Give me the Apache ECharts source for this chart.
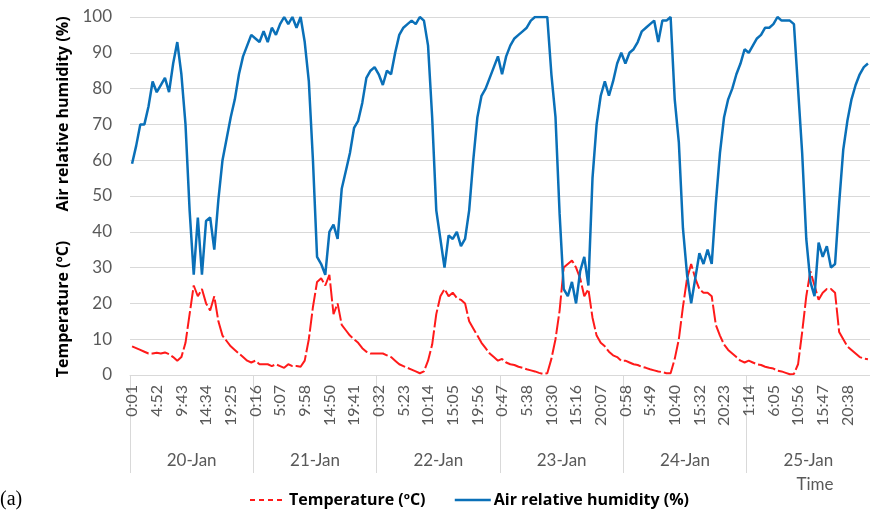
<!DOCTYPE html>
<html>
<head>
<meta charset="utf-8">
<script src="https://cdn.jsdelivr.net/npm/echarts@6/dist/echarts.min.js"></script>
<style>
  html, body { margin: 0; padding: 0; background: #fff; }
  #main { width: 870px; height: 516px; }
</style>
</head>
<body>
<div id="main"></div>
<script>
// dias y etiquetas de hora (cada 6 puntos)
var days = ['20-Jan', '21-Jan', '22-Jan', '23-Jan', '24-Jan', '25-Jan'];
var timeLabels = [
  ['0:01', '4:52', '9:43', '14:34', '19:25'],
  ['0:16', '5:07', '9:58', '14:50', '19:41'],
  ['0:32', '5:23', '10:14', '15:05', '19:56'],
  ['0:47', '5:38', '10:30', '15:16', '20:07'],
  ['0:58', '5:49', '10:40', '15:32', '20:23'],
  ['1:14', '6:05', '10:56', '15:47', '20:38']
];
var pointsPerDay = 30;

// humedad relativa (%), 30 puntos por dia
var humidity = [
  59, 64, 70, 70, 75, 82, 79, 81, 83, 79, 87, 93, 84, 70, 46, 28, 44, 28, 43, 44, 35, 49, 60, 66, 72, 77, 84, 89, 92, 95,
  94, 93, 96, 93, 97, 95, 98, 100, 98, 100, 97, 100, 93, 82, 60, 33, 31, 28, 40, 42, 38, 52, 57, 62, 69, 71, 76, 83, 85, 86,
  84, 81, 85, 84, 90, 95, 97, 98, 99, 98, 100, 99, 92, 72, 46, 38, 30, 39, 38, 40, 36, 38, 46, 60, 72, 78, 80, 83, 86, 89,
  84, 89, 92, 94, 95, 96, 97, 99, 100, 100, 100, 100, 84, 72, 45, 24, 22, 26, 20, 29, 33, 25, 55, 70, 78, 82, 78, 82, 87, 90,
  87, 90, 91, 93, 96, 97, 98, 99, 93, 99, 99, 100, 77, 65, 41, 28, 20, 27, 34, 31, 35, 31, 48, 62, 72, 77, 80, 84, 87, 91,
  90, 92, 94, 95, 97, 97, 98, 100, 99, 99, 99, 98, 80, 62, 38, 26, 22, 37, 33, 36, 30, 31, 48, 63, 71, 77, 81, 84, 86, 87
];
// temperatura (ºC)
var temperature = [
  8, 7.5, 7, 6.5, 6, 6, 6.2, 6, 6.3, 5.8, 5, 4, 5, 9, 17, 25, 22, 24, 20, 18, 22, 15, 11, 9.5, 8, 7, 6, 5, 4, 3.5,
  4, 3, 3, 3, 2.5, 3, 2.5, 2, 3, 2.5, 2.5, 2.3, 4, 10, 19, 26, 27, 25, 28, 17, 20, 14, 12.5, 11, 10, 9, 7.5, 6.5, 6, 6,
  6, 6, 5.5, 5, 4, 3, 2.5, 2, 1.5, 1, 0.5, 1, 4, 8.5, 17, 22, 24, 22, 23, 21.5, 21, 20, 15, 13, 11, 9, 7.5, 6, 5, 4,
  4.5, 3.5, 3, 2.8, 2.3, 2, 1.6, 1.3, 1, 0.6, 0.3, 0.5, 4.5, 10, 18, 30, 31, 32, 30, 27, 22, 24, 16, 11, 9, 8, 6.5, 5.5, 5, 4,
  4, 3.5, 3, 2.8, 2.3, 2, 1.6, 1.3, 1, 0.8, 0.5, 0.5, 4.5, 10, 19, 27, 31, 27, 24, 23, 23, 22, 14, 11, 8.5, 7, 6, 5, 4, 3.5,
  4, 3.5, 3, 2.8, 2.3, 2, 1.8, 1.2, 1, 0.6, 0.2, 0.3, 3, 12, 22, 29, 25, 21, 23, 24, 24, 23, 12, 10, 8, 7, 6, 5, 4.6, 4.4
];

var categories = [];
for (var i = 0; i < humidity.length; i++) {
  categories.push(String(i));
}

var dom = document.getElementById('main');
var myChart = echarts.init(dom);

var grey = '#595959';
var lineGrey = '#d9d9d9';
var titleFont = 'bold 16px "Open Sans"';

var option = {
  animation: false,
  grid: { left: 130, top: 17, bottom: 141, right: -4, containLabel: false },
  legend: {
    left: 244,
    top: 487,
    itemWidth: 36,
    itemHeight: 10,
    itemGap: 28,
    itemStyle: { opacity: 0 },
    textStyle: { fontFamily: 'Open Sans', fontWeight: 'bold', fontSize: 16, color: '#000', padding: [0, 0, 0, -2] },
    data: [
      { name: 'Temperature (ºC)', lineStyle: { type: [5, 4], width: 2 } },
      { name: 'Air relative humidity (%)', lineStyle: { width: 2.5 } }
    ]
  },
  xAxis: [
    {
      type: 'category',
      data: categories,
      boundaryGap: true,
      axisLine: { lineStyle: { color: lineGrey } },
      axisTick: {
        show: true,
        length: 98,
        lineStyle: { color: lineGrey },
        interval: function (index) { return index % pointsPerDay === 0; }
      },
      axisLabel: {
        rotate: 90,
        margin: 10,
        fontFamily: 'Lato',
        fontSize: 16,
        color: grey,
        interval: function (index) { return index % 6 === 0; },
        formatter: function (value, index) {
          var d = Math.floor(index / pointsPerDay);
          var k = (index % pointsPerDay) / 6;
          return timeLabels[d][k];
        }
      }
    },
    {
      type: 'category',
      data: days,
      position: 'bottom',
      offset: 75,
      axisLine: { show: false },
      axisTick: { show: false },
      axisLabel: { fontFamily: 'Lato', fontSize: 17, color: grey, margin: 2 }
    }
  ],
  yAxis: {
    type: 'value',
    min: 0,
    max: 100,
    interval: 10,
    axisLine: { show: false },
    axisTick: { show: false },
    splitLine: { lineStyle: { color: lineGrey } },
    axisLabel: { fontFamily: 'Lato', fontSize: 17, color: grey, margin: 18 }
  },
  graphic: [
    {
      type: 'text', x: 63, y: 309, rotation: Math.PI / 2,
      style: { text: 'Temperature (ºC)', font: titleFont, fill: '#000', align: 'center', verticalAlign: 'middle' }
    },
    {
      type: 'text', x: 63, y: 114, rotation: Math.PI / 2,
      style: { text: 'Air relative humidity (%)', font: titleFont, fill: '#000', align: 'center', verticalAlign: 'middle' }
    },
    {
      type: 'text', x: 815, y: 485,
      style: { text: 'Time', font: '17px Lato', fill: grey, align: 'center', verticalAlign: 'middle' }
    },
    {
      type: 'text', x: 0, y: 500,
      style: { text: '(a)', font: '20px "Liberation Serif"', fill: '#000', verticalAlign: 'middle' }
    }
  ],
  series: [
    {
      name: 'Temperature (ºC)',
      type: 'line',
      data: temperature,
      symbol: 'none',
      color: '#ff1a1a',
      lineStyle: { width: 2, color: '#ff1a1a', type: [18, 3] }
    },
    {
      name: 'Air relative humidity (%)',
      type: 'line',
      data: humidity,
      symbol: 'none',
      color: '#0a70b8',
      lineStyle: { width: 2.5, color: '#0a70b8' }
    }
  ]
};

myChart.setOption(option);
</script>
</body>
</html>
